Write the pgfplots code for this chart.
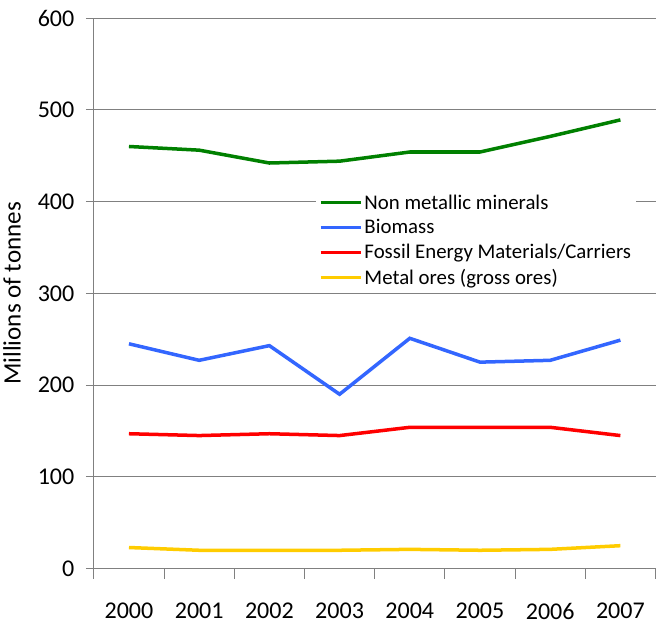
\documentclass[border=0pt]{standalone}
\usepackage{pgfplots}
\pgfplotsset{compat=1.18}
\usepackage{fontspec}
\setmainfont{Carlito}

\definecolor{cgreen}{RGB}{0,128,0}
\definecolor{cblue}{RGB}{51,102,255}
\definecolor{cred}{RGB}{255,0,0}
\definecolor{cyellow}{RGB}{255,204,0}
\definecolor{axgray}{RGB}{128,128,128}

\begin{document}
\begin{tikzpicture}
\begin{axis}[
    scale only axis,
    width=561pt, height=550pt,
    xmin=-0.5, xmax=7.5,
    ymin=0, ymax=600,
    ytick={0,100,...,600},
    xtick={0,...,7},
    xticklabels={2000,2001,2002,2003,2004,2005,2006,2007},
    minor xtick={-0.5,0.5,...,7.5},
    axis x line*=bottom,
    axis y line*=left,
    axis line style={axgray, line width=1pt, -},
    tick align=outside,
    major tick length=8pt,
    minor tick length=10pt,
    x tick style={draw=none},
    minor x tick style={draw=axgray, line width=1pt},
    y tick style={axgray, line width=1pt},
    ymajorgrids,
    grid style={axgray, line width=1pt},
    tick label style={font=\fontsize{24}{28}\selectfont},
    xticklabel style={yshift=-23pt},
    yticklabel style={xshift=-8pt},
    /pgf/number format/assume math mode=true,
    ylabel={Millions of tonnes},
    ylabel style={font=\fontsize{25}{29}\selectfont, yshift=10pt},
    legend style={
        at={(0.395,0.687)}, anchor=north west,
        draw=none, fill=white,
        font=\fontsize{20.8}{24}\selectfont,
        row sep=5pt,
        legend cell align=left,
    },
    legend image post style={line width=3.5pt},
    legend image code/.code={\draw[#1] (0pt,0pt) -- (40pt,0pt);},
    % keep the page margins of the reference above and below the axis
    after end axis/.code={
        \path (rel axis cs:0,1) ++(0,18pt);
        \path (rel axis cs:0,0) ++(0,-60pt);
    },
]
\addplot[cgreen, line width=3.5pt] coordinates {
    (0,460) (1,456) (2,442) (3,444) (4,454) (5,454) (6,471) (7,489)};
\addlegendentry{Non metallic minerals}
\addplot[cblue, line width=3.5pt] coordinates {
    (0,245) (1,227) (2,243) (3,190) (4,251) (5,225) (6,227) (7,249)};
\addlegendentry{Biomass}
\addplot[cred, line width=3.5pt] coordinates {
    (0,147) (1,145) (2,147) (3,145) (4,154) (5,154) (6,154) (7,145)};
\addlegendentry{Fossil Energy Materials/Carriers}
\addplot[cyellow, line width=3.5pt] coordinates {
    (0,23) (1,20) (2,20) (3,20) (4,21) (5,20) (6,21) (7,25)};
\addlegendentry{Metal ores (gross ores)}
\end{axis}
\end{tikzpicture}
\end{document}
